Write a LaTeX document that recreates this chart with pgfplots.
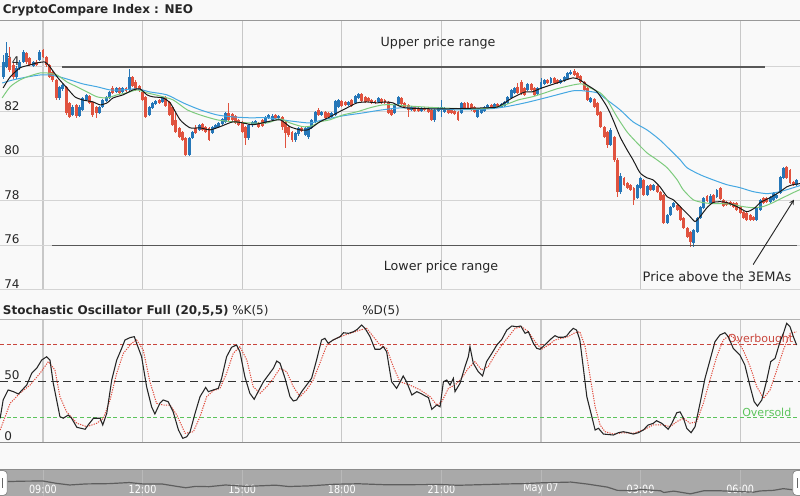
\documentclass[border=0pt]{standalone}
\usepackage{fontspec}
\setmainfont{DejaVu Sans}
\newfontfamily\narrowfont[FakeStretch=0.85]{DejaVu Sans}
\usepackage{pgfplots}
\usepackage{pgfplotstable}
\pgfplotsset{compat=1.18}
\definecolor{cblue}{HTML}{2677B8}
\definecolor{cred}{HTML}{E0533F}
\definecolor{emablue}{HTML}{45A8E2}
\definecolor{emagreen}{HTML}{7DCB7D}
\definecolor{gridc}{HTML}{D4D4D4}
\definecolor{vgridc}{HTML}{C8C8C8}
\definecolor{bgc}{HTML}{F9F9F9}
\definecolor{navband}{HTML}{A9A9A9}
\definecolor{navline}{HTML}{5E5E5E}
\definecolor{navgrid}{HTML}{B9B9B9}
\definecolor{obred}{HTML}{C9463D}
\definecolor{osgreen}{HTML}{5CC45C}
\definecolor{kdred}{HTML}{E0483A}
\definecolor{rangec}{HTML}{585858}

% t = hours after 09:00 (6-minute candles); O H L C
\pgfplotstableread{
t O H L C
-1.2 83.55 84.54 83.46 84.22
-1.1 84.00 85.12 83.96 84.63
-0.8 83.55 84.04 83.46 83.96
-0.7 83.96 84.31 83.87 84.22
-0.6 84.22 84.76 84.18 84.67
-0.3 84.04 84.27 84.00 84.22
-0.1 84.31 84.76 84.27 84.67
0.5 82.61 83.15 82.52 83.11
0.6 83.02 83.24 82.93 83.19
0.9 81.85 82.30 81.81 82.21
1.1 81.81 82.30 81.76 82.21
1.2 82.08 82.66 82.03 82.61
1.3 82.52 82.79 82.48 82.75
1.7 81.94 82.26 81.90 82.21
1.8 82.21 82.57 82.17 82.52
1.9 82.48 82.70 82.43 82.66
2.0 82.61 82.93 82.57 82.88
2.2 82.88 83.11 82.84 83.06
2.4 82.88 83.11 82.84 83.06
2.6 82.97 83.91 82.93 83.55
3.2 81.85 82.26 81.81 82.21
3.3 82.17 82.43 82.12 82.39
3.4 82.34 82.52 82.30 82.48
3.6 82.43 82.70 82.39 82.66
4.4 80.06 80.87 80.02 80.82
4.5 80.82 81.14 80.78 81.09
4.7 81.18 81.45 81.14 81.41
5.1 81.05 81.36 81.00 81.32
5.2 81.27 81.45 81.23 81.41
5.3 81.32 81.54 81.27 81.49
5.4 81.45 81.72 81.41 81.67
5.5 81.54 81.99 81.49 81.94
6.2 80.82 81.45 80.73 81.41
6.3 81.41 81.58 81.32 81.54
6.4 81.45 81.63 81.41 81.58
6.7 81.49 81.81 81.45 81.76
6.8 81.72 81.90 81.67 81.85
6.9 81.63 81.90 81.58 81.81
7.1 81.72 81.85 81.63 81.81
7.6 80.73 81.09 80.64 81.05
7.7 81.00 81.32 80.91 81.27
7.9 80.96 81.32 80.91 81.27
8.0 80.87 81.36 80.78 81.32
8.1 81.27 81.67 81.23 81.63
8.2 81.54 82.03 81.49 81.99
8.4 81.85 82.03 81.81 81.99
8.7 81.76 81.99 81.72 81.94
8.8 81.85 82.52 81.81 82.48
8.9 82.21 82.57 82.17 82.52
9.2 82.30 82.48 82.26 82.43
9.4 82.39 82.75 82.34 82.70
9.5 82.61 82.84 82.57 82.79
10.1 82.43 82.66 82.39 82.61
10.6 81.94 82.34 81.90 82.30
10.7 82.34 82.70 82.30 82.66
11.1 82.08 82.26 82.03 82.21
11.4 82.03 82.21 81.99 82.17
11.8 81.63 82.12 81.54 82.08
11.9 82.03 82.21 81.99 82.17
12.0 82.08 82.52 81.76 82.21
12.1 81.99 82.21 81.94 82.17
12.6 81.94 82.43 81.90 82.39
13.1 81.76 82.12 81.72 82.08
13.2 81.94 82.17 81.90 82.12
13.3 82.03 82.26 81.99 82.21
13.4 82.17 82.34 82.12 82.30
13.6 82.17 82.39 82.12 82.34
13.8 82.21 82.39 82.17 82.34
13.9 82.26 82.48 82.21 82.43
14.0 82.39 82.70 82.34 82.66
14.1 82.61 83.02 82.57 82.97
14.2 82.84 83.11 82.79 83.06
14.6 82.97 83.28 82.93 83.24
14.9 82.79 83.11 82.75 83.06
15.0 83.06 83.51 83.02 83.33
15.1 83.24 83.46 83.19 83.42
15.3 83.28 83.55 83.24 83.51
15.6 83.28 83.46 83.24 83.42
15.7 83.37 83.60 83.33 83.55
15.8 83.46 83.78 83.42 83.73
15.9 83.69 83.87 83.64 83.78
16.5 82.43 82.66 82.39 82.61
17.1 80.51 81.27 80.47 81.18
17.4 78.41 79.26 78.32 79.12
17.9 78.14 78.77 78.09 78.72
18.0 78.59 79.08 78.54 79.03
18.2 78.27 78.72 78.23 78.68
18.4 78.50 78.77 78.45 78.72
18.8 77.02 77.42 76.98 77.38
18.9 77.38 77.78 77.33 77.74
19.0 77.74 77.96 77.69 77.92
19.6 76.13 76.75 75.95 76.71
19.7 76.62 77.29 76.57 77.24
19.8 77.24 77.78 77.20 77.74
19.9 77.69 78.18 77.65 78.14
20.1 77.92 78.32 77.87 78.23
20.3 78.18 78.54 78.14 78.50
21.5 77.15 77.74 77.11 77.69
21.6 77.60 78.09 77.56 78.05
21.9 77.96 78.23 77.92 78.18
22.0 78.05 78.41 78.00 78.36
22.1 78.14 78.32 78.09 78.27
22.2 78.36 79.12 78.32 79.08
22.3 79.03 79.53 78.99 79.48
22.7 78.72 78.99 78.68 78.94
}\upc

\pgfplotstableread{
t O H L C
-1.0 84.40 84.89 83.78 83.87
-0.9 84.09 84.18 83.46 83.55
-0.5 84.63 84.67 84.13 84.22
-0.4 84.40 84.45 84.04 84.09
-0.2 84.22 84.31 84.04 84.09
0.0 84.76 84.81 84.40 84.45
0.1 84.45 84.49 84.00 84.09
0.2 84.09 84.13 83.51 83.55
0.3 83.78 83.82 83.33 83.42
0.4 83.42 83.46 82.52 82.61
0.7 83.11 83.15 81.85 81.94
0.8 82.39 82.43 81.72 81.76
1.0 82.30 82.34 81.72 81.81
1.4 82.70 82.75 82.34 82.39
1.5 82.43 82.48 81.76 81.85
1.6 82.21 82.26 81.72 81.94
2.1 83.06 83.15 82.79 82.84
2.3 83.06 83.11 82.79 82.84
2.5 83.06 83.11 82.88 82.93
2.7 83.55 83.60 83.11 83.15
2.8 83.33 83.42 82.93 82.97
2.9 83.15 83.19 82.88 82.97
3.0 82.88 82.93 82.48 82.52
3.1 82.66 82.70 81.72 81.76
3.5 82.52 82.57 82.34 82.39
3.7 82.66 82.70 82.21 82.26
3.8 82.43 82.48 81.81 81.85
3.9 82.21 82.26 81.36 81.41
4.0 81.63 81.94 81.05 81.09
4.1 81.27 81.32 80.82 80.87
4.2 81.09 81.14 80.69 80.73
4.3 80.82 80.87 80.02 80.06
4.6 81.27 81.41 81.00 81.05
4.8 81.45 81.49 81.14 81.18
4.9 81.32 81.36 81.05 81.09
5.0 81.27 81.32 80.69 80.73
5.6 81.94 82.39 81.58 81.63
5.7 81.90 81.94 81.58 81.63
5.8 81.81 81.85 81.45 81.49
5.9 81.63 81.67 81.36 81.41
6.0 81.54 81.58 81.05 81.09
6.1 81.32 81.36 80.51 80.82
6.5 81.49 81.54 81.27 81.32
6.6 81.63 81.67 81.32 81.36
7.0 81.85 81.90 81.67 81.72
7.2 81.76 81.81 81.18 81.32
7.3 81.54 81.58 80.38 81.05
7.4 81.32 81.36 80.87 80.96
7.5 81.09 81.14 80.64 80.73
7.8 81.27 81.32 81.09 81.14
8.3 82.08 82.17 81.81 81.85
8.5 81.99 82.03 81.67 81.72
8.6 81.94 81.99 81.72 81.76
9.0 82.48 82.52 82.21 82.26
9.1 82.43 82.48 82.26 82.30
9.3 82.52 82.57 82.21 82.26
9.6 82.79 82.84 82.43 82.48
9.7 82.66 82.70 82.39 82.43
9.8 82.61 82.66 82.43 82.48
9.9 82.52 82.57 82.34 82.39
10.0 82.48 82.52 82.34 82.39
10.2 82.57 82.61 82.34 82.39
10.3 82.52 82.57 82.34 82.39
10.4 82.43 82.48 81.90 81.94
10.5 82.08 82.12 81.81 81.85
10.8 82.61 82.66 82.30 82.34
10.9 82.39 82.43 82.17 82.21
11.0 82.30 82.34 81.76 82.08
11.2 82.21 82.26 81.99 82.03
11.3 82.17 82.21 81.99 82.03
11.5 82.17 82.21 82.03 82.08
11.6 82.17 82.21 81.94 81.99
11.7 82.08 82.12 81.58 81.63
12.2 82.08 82.12 81.90 81.94
12.3 82.08 82.12 81.90 81.94
12.4 82.03 82.08 81.85 81.90
12.5 81.99 82.03 81.58 81.63
12.7 82.39 82.43 82.12 82.17
12.8 82.39 82.43 82.12 82.17
12.9 82.34 82.39 82.03 82.08
13.0 82.21 82.26 81.94 81.99
13.5 82.30 82.34 82.12 82.17
13.7 82.34 82.39 82.17 82.21
14.3 83.11 83.28 82.79 82.84
14.4 83.33 83.42 82.75 82.84
14.5 83.06 83.11 82.70 82.75
14.7 83.24 83.28 82.93 82.97
14.8 83.06 83.11 82.70 82.75
15.2 83.42 83.46 83.24 83.28
15.4 83.51 83.55 83.24 83.28
15.5 83.42 83.46 83.24 83.28
16.0 83.82 83.91 83.60 83.64
16.1 83.73 83.78 83.46 83.51
16.2 83.60 83.64 83.28 83.33
16.3 83.33 83.37 82.93 82.97
16.4 83.06 83.11 82.48 82.52
16.6 82.57 82.61 82.17 82.21
16.7 82.39 82.43 81.81 81.85
16.8 81.99 82.03 81.27 81.32
16.9 81.32 81.36 80.82 80.87
17.0 81.09 81.14 80.38 80.51
17.2 80.87 80.91 79.75 79.84
17.3 79.84 79.93 78.18 78.41
17.5 79.03 79.08 78.68 78.72
17.6 78.81 78.85 78.54 78.59
17.7 78.72 78.77 78.45 78.50
17.8 78.59 78.63 77.83 78.05
18.1 78.94 78.99 78.23 78.27
18.3 78.72 78.77 78.45 78.50
18.5 78.68 78.72 78.36 78.41
18.6 78.41 78.45 78.00 78.05
18.7 78.27 78.32 76.98 77.02
19.1 77.83 77.87 77.56 77.60
19.2 77.74 77.78 77.11 77.15
19.3 77.24 77.29 76.75 76.80
19.4 76.80 76.84 76.35 76.39
19.5 76.62 76.66 75.95 76.13
20.0 78.23 78.27 77.96 78.00
20.2 78.27 78.32 77.87 77.92
20.4 78.59 78.63 78.05 78.09
20.5 78.05 78.09 77.74 77.78
20.6 77.96 78.00 77.78 77.83
20.7 77.96 78.00 77.78 77.83
20.8 77.92 77.96 77.69 77.74
20.9 77.92 77.96 77.56 77.60
21.0 77.74 77.78 77.42 77.47
21.1 77.51 77.56 77.20 77.24
21.2 77.47 77.51 77.11 77.15
21.3 77.38 77.42 77.11 77.15
21.4 77.29 77.33 77.11 77.15
21.7 78.14 78.18 77.87 77.92
21.8 78.14 78.18 77.92 77.96
22.4 79.53 79.57 78.99 79.03
22.5 79.39 79.44 78.77 78.81
22.6 78.85 78.90 78.68 78.72
}\downc

\pgfplotsset{
  base/.style={
    scale only axis, width=600pt, anchor=south west,
    xmin=-1.2952, xmax=22.801,
    axis line style={draw=none},
    major tick length=0pt,
    xtick={0,3,...,21},
    xmajorgrids,
    x grid style={vgridc, line width=0.9pt},
    /pgf/number format/assume math mode=true,
    clip=false,
    yticklabel style={anchor=south west, inner sep=0.8pt, xshift=2.2pt, font=\fontsize{9}{10}\selectfont, text=black!85},
  },
  candlewick/.style={draw=none, mark=none, forget plot,
    error bars/.cd, y dir=both, y explicit, error mark=none,
    error bar style={line width=0.75pt, draw=#1, solid}},
  candlebody/.style={draw=none, mark=none, forget plot,
    error bars/.cd, y dir=both, y explicit, error mark=none,
    error bar style={line width=2.2pt, draw=#1, solid}},
}

\begin{document}
\begin{tikzpicture}
\fill[bgc] (0pt,0pt) rectangle (600pt,372pt);
\fill[navband] (0pt,0pt) rectangle (600pt,19.5pt);

% ---------------- price panel ----------------
\begin{axis}[base, at={(0pt,154.5pt)}, height=201.75pt,
  ymin=74, ymax=86.06, ytick={74,76,...,84},
  ymajorgrids, y grid style={gridc, line width=0.75pt},
  xticklabels={}]
\draw[black!40, line width=0.75pt] (rel axis cs:0,1) -- (rel axis cs:1,1);
\addplot[candlewick=cblue] table[x=t, y expr={(\thisrow{H}+\thisrow{L})/2}, y error expr={(\thisrow{H}-\thisrow{L})/2}] {\upc};
\addplot[candlewick=cred] table[x=t, y expr={(\thisrow{H}+\thisrow{L})/2}, y error expr={(\thisrow{H}-\thisrow{L})/2}] {\downc};
\addplot[candlebody=cblue] table[x=t, y expr={(\thisrow{O}+\thisrow{C})/2}, y error expr={abs(\thisrow{C}-\thisrow{O})/2}] {\upc};
\addplot[candlebody=cred] table[x=t, y expr={(\thisrow{O}+\thisrow{C})/2}, y error expr={abs(\thisrow{C}-\thisrow{O})/2}] {\downc};
% EMA slow (blue)
\addplot[emablue, line width=0.75pt, smooth, tension=0.4] coordinates {
(-1.23,83.28) (-0.90,83.42) (-0.48,83.55) (-0.09,83.64) (0.21,83.64) (0.51,83.55) (0.81,83.42) (1.20,83.24) (1.63,83.11) (2.02,82.97) (2.41,82.97) (2.83,83.02) (3.22,82.88) (3.73,82.75) (4.22,82.39) (4.73,82.08) (5.24,81.85) (5.72,81.76) (6.23,81.72) (6.75,81.72) (7.44,81.58) (8.04,81.49) (8.43,81.63) (9.04,81.81) (9.64,81.94) (10.24,82.08) (10.90,82.17) (12.41,82.08) (13.40,82.12) (13.92,82.21) (14.52,82.39) (15.12,82.61) (15.48,82.75) (15.96,82.93) (16.27,82.93) (16.69,82.84) (16.99,82.52) (17.38,82.08) (17.77,81.54) (18.19,81.18) (18.58,80.73) (18.98,80.15) (19.19,79.84) (19.40,79.48) (19.79,79.17) (20.18,78.94) (20.60,78.72) (20.99,78.59) (21.39,78.41) (21.81,78.32) (22.20,78.41) (22.50,78.54) (22.80,78.68)};
% EMA mid (green)
\addplot[emagreen, line width=0.75pt, smooth, tension=0.4] coordinates {
(-1.23,82.61) (-0.99,83.11) (-0.69,83.42) (-0.39,83.60) (-0.09,83.73) (0.12,83.73) (0.42,83.64) (0.72,83.33) (1.02,83.11) (1.33,82.88) (1.63,82.66) (1.93,82.61) (2.23,82.75) (2.53,82.84) (2.83,82.97) (3.13,82.84) (3.52,82.70) (3.92,82.52) (4.34,82.08) (4.73,81.85) (5.24,81.63) (5.72,81.54) (6.23,81.49) (6.75,81.49) (7.14,81.67) (7.44,81.49) (7.83,81.32) (8.10,81.36) (8.34,81.54) (8.64,81.63) (9.04,81.85) (9.46,81.99) (9.85,82.17) (10.24,82.30) (10.66,82.30) (10.90,82.26) (11.90,82.17) (12.92,82.12) (13.52,82.17) (13.92,82.30) (14.31,82.52) (14.73,82.66) (15.12,82.84) (15.48,83.02) (15.96,83.19) (16.23,83.24) (16.48,83.06) (16.78,82.84) (16.99,82.52) (17.29,81.76) (17.59,81.09) (17.89,80.60) (18.19,80.15) (18.49,79.84) (18.80,79.48) (19.10,78.94) (19.28,78.50) (19.58,78.05) (19.88,77.92) (20.18,77.87) (20.48,77.87) (20.78,77.83) (21.08,77.74) (21.39,77.69) (21.69,77.74) (21.99,77.92) (22.29,78.14) (22.59,78.36) (22.80,78.50)};
% EMA fast (black)
\addplot[black!90, line width=0.75pt, smooth, tension=0.4] coordinates {
(-1.20,83.06) (-0.99,83.55) (-0.69,83.96) (-0.39,84.09) (-0.18,84.18) (0.06,84.22) (0.21,84.00) (0.45,83.51) (0.72,83.06) (0.96,82.66) (1.20,82.52) (1.51,82.43) (1.72,82.30) (1.93,82.39) (2.11,82.61) (2.41,82.75) (2.71,82.97) (2.92,83.02) (3.13,82.75) (3.31,82.66) (3.61,82.61) (3.83,82.39) (4.13,81.63) (4.43,81.27) (4.73,81.27) (5.03,81.18) (5.33,81.32) (5.72,81.54) (6.02,81.49) (6.33,81.41) (6.75,81.54) (7.14,81.63) (7.44,81.32) (7.74,81.18) (7.98,81.18) (8.13,81.32) (8.34,81.54) (8.64,81.76) (8.86,81.94) (9.16,82.17) (9.46,82.39) (9.76,82.43) (10.06,82.39) (10.30,82.43) (10.54,82.39) (10.90,82.17) (11.96,82.12) (13.40,82.17) (13.70,82.21) (14.13,82.61) (14.52,82.88) (14.73,82.88) (15.03,83.06) (15.48,83.28) (15.96,83.51) (16.17,83.42) (16.39,83.19) (16.69,82.88) (16.99,82.21) (17.17,81.63) (17.38,80.87) (17.59,80.29) (17.77,79.84) (17.98,79.26) (18.19,79.03) (18.37,78.94) (18.58,78.63) (18.80,78.18) (18.98,78.05) (19.19,77.74) (19.49,77.29) (19.64,77.07) (19.79,77.29) (20.00,77.69) (20.18,77.92) (20.39,77.96) (20.60,77.92) (20.90,77.74) (21.20,77.51) (21.45,77.69) (21.60,77.92) (21.90,78.14) (22.20,78.41) (22.41,78.63) (22.59,78.72) (22.80,78.77)};
% price range lines
\addplot[rangec, line width=1.3pt] coordinates {(0.57,84) (21.75,84)};
\addplot[rangec, line width=1.3pt] coordinates {(0.27,76) (22.71,76)};
\node[font=\fontsize{9.5}{11}\selectfont, text=black!85] at (axis cs:11.9,85.07) {Upper price range};
\node[font=\fontsize{9.5}{11}\selectfont, text=black!85] at (axis cs:11.99,75.01) {Lower price range};
\node[font=\fontsize{9.75}{11}\selectfont, text=black!85] at (axis cs:20.3,74.62) {Price above the 3EMAs};
\draw[-stealth, black!85, line width=0.7pt] (axis cs:21.39,75.14) -- (axis cs:22.62,78.05);
\end{axis}

% ---------------- stochastic panel ----------------
\begin{axis}[base, at={(0pt,40.125pt)}, height=91.875pt,
  ymin=0, ymax=100, ytick={0,50},
  xticklabels={}]
\draw[black!30, line width=0.75pt] (rel axis cs:0,1) -- (rel axis cs:1,1);
\draw[black!45, line width=0.75pt] (rel axis cs:0,0) -- (rel axis cs:1,0);
\addplot[obred, line width=0.75pt, dash pattern=on 3pt off 2pt] coordinates {(-1.2952,80) (22.801,80)};
\addplot[black!80, line width=0.9pt, dash pattern=on 6pt off 3.5pt] coordinates {(-1.2952,50) (22.801,50)};
\addplot[osgreen, line width=0.75pt, dash pattern=on 3pt off 2pt] coordinates {(-1.2952,20) (22.801,20)};
\node[anchor=east, font=\fontsize{8.25}{9}\selectfont, text=obred] at (axis cs:22.74,84.5) {Overbought};
\node[anchor=east, font=\fontsize{8.25}{9}\selectfont, text=osgreen] at (axis cs:22.68,24.2) {Oversold};
% %D (red dotted)
\addplot[kdred, line width=0.75pt, dash pattern=on 0.9pt off 0.9pt] coordinates {
(-1.29,10.2) (-0.99,32.0) (-0.69,40.4) (-0.39,46.9) (-0.09,56.5) (0.16,66.0) (0.36,59.2) (0.51,37.4) (0.71,25.1) (1.02,15.7) (1.32,12.9) (1.62,15.7) (1.82,19.8) (2.02,34.7) (2.22,56.5) (2.42,72.8) (2.67,81.0) (2.82,83.7) (3.02,75.5) (3.22,49.6) (3.42,32.0) (3.62,30.6) (3.83,30.6) (4.03,22.4) (4.28,7.5) (4.53,8.8) (4.73,21.1) (4.93,37.4) (5.13,42.3) (5.33,44.2) (5.53,56.5) (5.73,72.8) (5.93,78.2) (6.14,67.3) (6.33,45.6) (6.54,40.2) (6.74,45.6) (6.94,52.4) (7.14,60.6) (7.34,57.8) (7.54,45.6) (7.74,37.4) (7.94,42.9) (8.14,51.0) (8.34,64.7) (8.55,79.6) (8.74,83.7) (8.95,86.4) (9.25,89.1) (9.55,91.8) (9.75,93.2) (9.95,86.4) (10.15,79.6) (10.35,76.9) (10.55,61.9) (10.75,49.6) (11.05,46.9) (11.36,42.9) (11.66,37.4) (11.86,30.6) (12.01,33.3) (12.21,44.2) (12.41,46.9) (12.61,52.4) (12.81,60.6) (13.01,66.0) (13.21,59.2) (13.41,61.9) (13.61,71.4) (13.82,79.6) (14.02,86.4) (14.22,93.2) (14.42,94.5) (14.62,90.4) (14.82,82.3) (15.02,76.1) (15.22,79.6) (15.42,83.7) (15.62,85.0) (15.82,86.4) (16.02,89.6) (16.17,90.4) (16.33,78.2) (16.48,53.7) (16.63,29.2) (16.78,14.3) (16.93,8.8) (17.18,6.9) (17.48,8.0) (17.78,7.5) (18.08,10.2) (18.38,14.3) (18.68,14.3) (18.89,12.9) (19.09,17.0) (19.29,19.8) (19.49,15.7) (19.69,17.0) (19.89,32.0) (20.09,51.0) (20.29,70.0) (20.49,83.7) (20.69,87.8) (20.89,83.7) (21.09,75.5) (21.30,61.9) (21.50,45.6) (21.70,36.1) (21.90,42.9) (22.10,59.2) (22.30,75.5) (22.50,89.1) (22.70,90.4)};
% %K (black)
\addplot[black!85, line width=0.8pt] coordinates {
(-1.29,19.8) (-1.20,34.7) (-1.05,42.9) (-0.89,41.5) (-0.74,39.6) (-0.49,46.9) (-0.34,56.5) (-0.19,60.6) (-0.04,67.3) (0.11,70.0) (0.21,67.3) (0.31,48.3) (0.41,34.7) (0.51,21.1) (0.61,19.8) (0.76,22.4) (0.86,19.8) (1.02,12.4) (1.27,10.8) (1.36,14.3) (1.52,19.8) (1.72,19.8) (1.80,14.3) (1.92,23.8) (2.07,51.0) (2.22,67.3) (2.37,76.9) (2.47,83.7) (2.62,85.6) (2.75,86.4) (2.82,81.0) (2.97,70.0) (3.12,45.6) (3.27,29.2) (3.37,23.3) (3.52,32.0) (3.62,34.7) (3.77,33.3) (3.92,25.1) (4.08,10.2) (4.21,3.4) (4.33,4.7) (4.43,8.8) (4.58,23.8) (4.73,37.4) (4.90,45.0) (4.98,41.5) (5.13,42.9) (5.28,44.2) (5.38,52.4) (5.53,70.0) (5.68,77.7) (5.83,79.6) (5.93,74.1) (6.08,53.7) (6.23,40.2) (6.36,35.3) (6.48,41.5) (6.64,49.6) (6.79,55.1) (6.94,60.6) (7.04,66.5) (7.14,64.7) (7.29,52.4) (7.44,37.4) (7.54,33.9) (7.64,34.7) (7.79,41.5) (7.94,46.9) (8.09,52.4) (8.24,67.3) (8.39,83.7) (8.49,85.0) (8.59,81.0) (8.74,83.7) (8.95,86.4) (9.05,89.6) (9.20,89.1) (9.35,90.4) (9.47,92.4) (9.60,95.9) (9.70,93.2) (9.85,86.4) (10.00,76.1) (10.15,76.1) (10.25,78.2) (10.35,74.1) (10.50,49.6) (10.65,44.2) (10.75,49.0) (10.85,54.3) (10.95,49.6) (11.11,38.8) (11.26,41.5) (11.41,39.6) (11.51,38.0) (11.61,36.7) (11.71,27.1) (11.86,30.6) (11.96,29.2) (12.06,49.6) (12.16,51.0) (12.26,46.9) (12.36,52.4) (12.41,41.5) (12.56,48.3) (12.71,61.9) (12.81,70.0) (12.86,78.2) (12.96,64.7) (13.11,57.8) (13.24,54.3) (13.36,66.0) (13.52,72.8) (13.67,79.6) (13.82,84.2) (13.97,91.8) (14.12,95.1) (14.27,94.5) (14.39,95.1) (14.52,89.1) (14.62,90.4) (14.77,81.0) (14.87,76.9) (14.97,76.1) (15.17,81.0) (15.32,85.0) (15.42,87.2) (15.52,85.9) (15.67,85.9) (15.77,86.9) (15.87,90.4) (15.97,93.2) (16.07,91.8) (16.17,83.7) (16.27,61.9) (16.38,37.4) (16.53,21.1) (16.63,10.2) (16.73,11.6) (16.88,6.9) (17.03,6.5) (17.18,6.1) (17.33,8.0) (17.48,8.8) (17.63,8.0) (17.78,6.9) (17.93,8.0) (18.08,10.2) (18.23,14.3) (18.38,15.6) (18.48,17.8) (18.64,15.6) (18.83,10.8) (18.94,15.6) (19.09,24.3) (19.19,25.0) (19.29,19.8) (19.39,11.6) (19.52,8.0) (19.64,12.9) (19.79,32.0) (19.94,52.4) (20.09,67.3) (20.24,82.3) (20.39,87.8) (20.54,89.6) (20.64,86.4) (20.79,76.9) (20.99,71.4) (21.14,63.3) (21.30,45.6) (21.42,33.3) (21.52,29.8) (21.65,34.7) (21.80,51.0) (21.92,66.0) (22.05,68.7) (22.20,82.3) (22.30,89.1) (22.40,97.3) (22.50,94.5) (22.60,86.4) (22.70,79.6)};
\end{axis}

% ---------------- navigator ----------------
\begin{axis}[base, at={(0pt,0pt)}, height=19.5pt,
  ymin=74.7, ymax=91.7, ytick=\empty,
  x grid style={navgrid, line width=0.6pt},
  xticklabels={09:00,12:00,15:00,18:00,21:00,May 07,03:00,06:00},
  xticklabel style={anchor=center, yshift=5.3pt, text=white, font=\narrowfont\fontsize{8.5}{9}\selectfont}]
\addplot[navline, line width=0.9pt] coordinates {
(-1.29,84.0) (-0.6,84.4) (0.0,84.5) (0.4,83.0) (0.8,81.9) (1.3,82.6) (2.0,82.8) (2.6,83.5) (3.0,82.6) (3.6,82.5) (4.0,81.1) (4.3,80.1) (4.6,81.0) (5.0,80.8) (5.5,81.9) (6.1,81.0) (6.6,81.4) (7.0,81.8) (7.4,80.9) (8.0,81.3) (8.8,82.4) (9.5,82.7) (10.4,82.0) (11.0,82.1) (12.0,82.2) (12.5,81.7) (13.0,82.0) (14.0,82.6) (14.5,82.8) (15.0,83.3) (15.9,83.8) (16.4,82.5) (17.0,80.5) (17.3,78.4) (17.8,78.1) (18.0,79.0) (18.6,78.1) (18.7,77.0) (19.0,77.9) (19.5,76.1) (19.9,78.1) (20.4,78.1) (21.4,77.2) (21.6,78.0) (22.0,78.4) (22.3,79.5) (22.6,78.7) (22.8,78.9)};
\end{axis}
\draw[black!45, line width=0.75pt] (0pt,19.5pt) -- (600pt,19.5pt);
\filldraw[fill=white, draw=black!45, line width=0.6pt, rounded corners=3pt] (-5pt,0.4pt) rectangle (5.5pt,19.1pt);
\draw[black!60, line width=0.8pt] (1.8pt,6pt) -- (1.8pt,13.5pt);
\filldraw[fill=white, draw=black!45, line width=0.6pt, rounded corners=3pt] (594.5pt,0.4pt) rectangle (605pt,19.1pt);
\draw[black!60, line width=0.8pt] (598.2pt,6pt) -- (598.2pt,13.5pt);

% ---------------- titles ----------------
\node[anchor=west, inner sep=0pt, font=\bfseries\fontsize{9}{10}\selectfont, text=black!85] at (2pt,364.5pt) {CryptoCompare Index : NEO};
\node[anchor=west, inner sep=0pt, font=\bfseries\fontsize{9}{10}\selectfont, text=black!85] at (2pt,138.75pt) {Stochastic Oscillator Full (20,5,5)};
\node[anchor=west, inner sep=0pt, font=\fontsize{9}{10}\selectfont, text=black!85] at (174pt,138.75pt) {\%K(5)};
\node[anchor=west, inner sep=0pt, font=\fontsize{9}{10}\selectfont, text=black!85] at (271.5pt,138.75pt) {\%D(5)};

\pgfresetboundingbox
\path[use as bounding box] (0pt,0pt) rectangle (600pt,372pt);
\end{tikzpicture}
\end{document}
